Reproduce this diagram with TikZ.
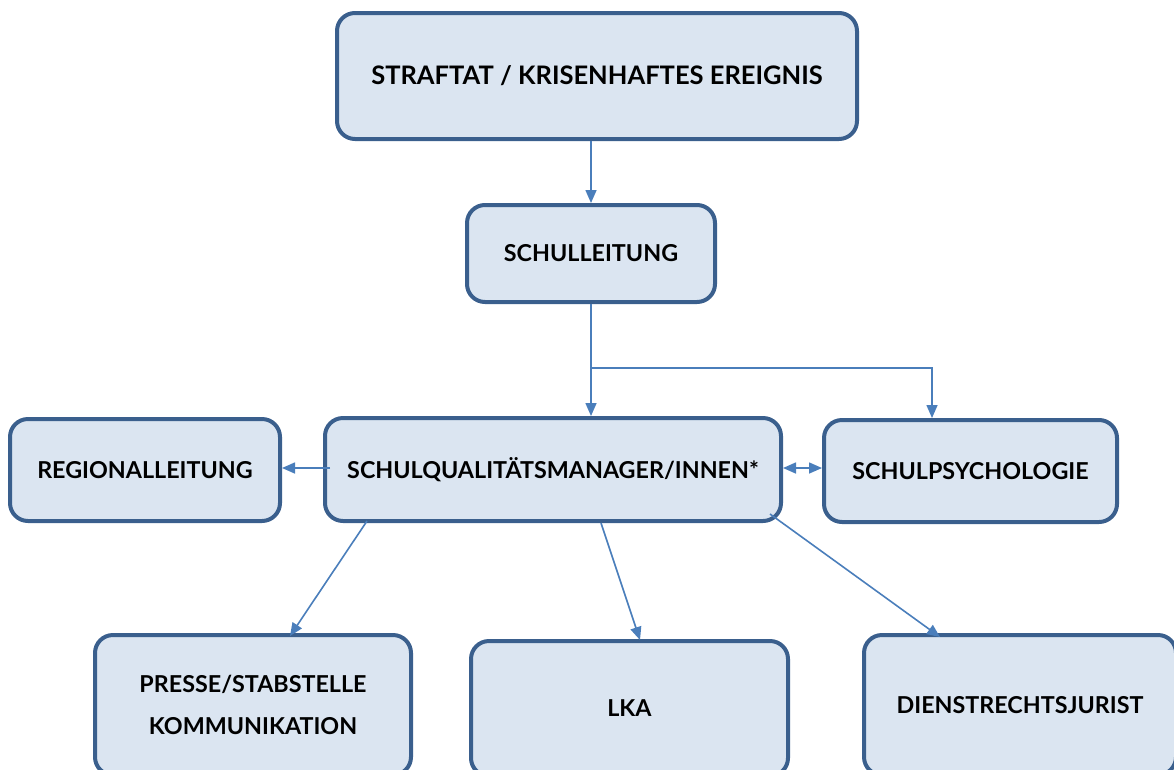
\documentclass[tikz,border=0pt]{standalone}
\usepackage{fontspec}
\setmainfont{Lato}
\usetikzlibrary{arrows.meta}
\definecolor{boxfill}{HTML}{DBE5F1}
\definecolor{boxline}{HTML}{3A5F8D}
\definecolor{arr}{HTML}{4A7EBB}
\begin{document}
\begin{tikzpicture}[x=1pt,y=-1pt,
  box/.style={draw=boxline,fill=boxfill,line width=4pt,rounded corners=18pt,
    font=\fontsize{23.3}{28}\selectfont\bfseries,align=center,inner sep=0pt},
  conn/.style={draw=arr,line width=1.6pt,-{Triangle[length=13pt,width=11pt]}},
  dconn/.style={draw=arr,line width=1.6pt,{Triangle[length=13pt,width=11pt]}-{Triangle[length=13pt,width=11pt]}}]
\useasboundingbox (0,0) rectangle (1174,769);
\node[box,minimum width=520pt,minimum height=126pt,font=\fontsize{25.5}{30}\selectfont\bfseries] (top) at (597,76) {STRAFTAT / KRISENHAFTES EREIGNIS};
\node[box,minimum width=248pt,minimum height=97pt] (sl) at (591,253.5) {SCHULLEITUNG};
\node[box,minimum width=270pt,minimum height=102pt] (rl) at (145,470) {REGIONALLEITUNG};
\node[box,minimum width=456pt,minimum height=103pt] (sqm) at (553,469.5) {SCHULQUALITÄTSMANAGER/INNEN*};
\node[box,minimum width=293pt,minimum height=102pt] (sp) at (970.5,471) {SCHULPSYCHOLOGIE};
\node[box,minimum width=316pt,minimum height=140pt] (pr) at (253,705) {PRESSE/STABSTELLE\\[14pt]KOMMUNIKATION};
\node[box,minimum width=317pt,minimum height=135pt] (lka) at (629.5,708.5) {LKA};
\node[box,minimum width=312pt,minimum height=140pt] (dj) at (1020,705) {DIENSTRECHTSJURIST};
\coordinate (br) at (591,368);
\draw[conn] (sl.north |- top.south) -- (sl.north);
\draw[conn] (sl.south) -- (sqm.north -| sl.south);
\draw[conn] (br) -| (932,418);
\draw[conn] (330,468) -- (rl.east |- 0,468);
\draw[dconn] (sqm.east |- 0,468) -- (sp.west |- 0,468);
\draw[conn] (367,521) -- (290,636);
\draw[conn] (601,523) -- (640,640);
\draw[conn] (770,514) -- (940,637);
\end{tikzpicture}
\end{document}
